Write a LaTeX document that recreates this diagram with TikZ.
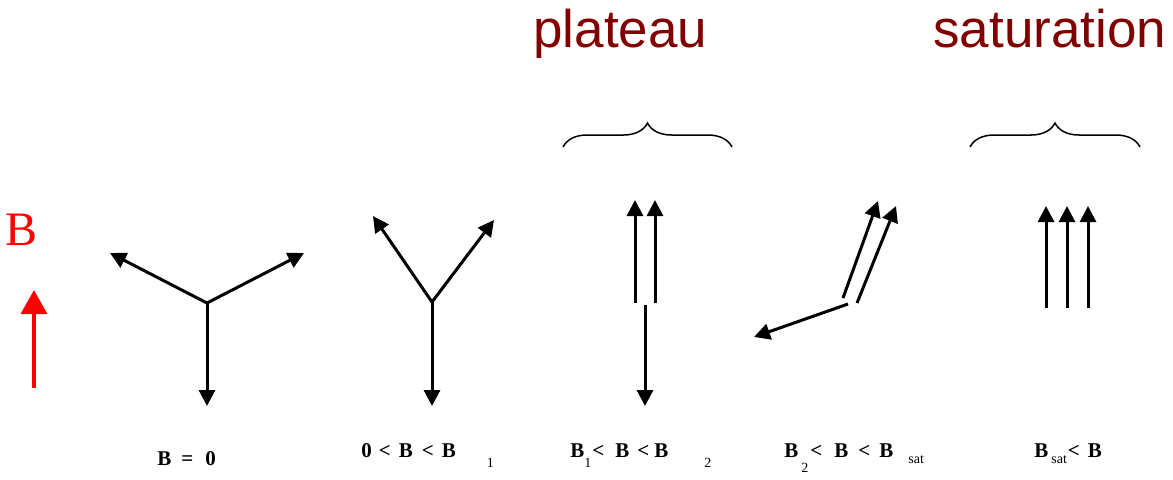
\documentclass[tikz,border=0pt]{standalone}
\usepackage{fontspec}
\setmainfont{Liberation Serif}
\newfontfamily\titlefont{Liberation Sans}
\usetikzlibrary{arrows.meta,decorations.pathreplacing}
\definecolor{darkred}{RGB}{128,0,0}
\newdimen\mypx \mypx=0.5pt
\newcommand\gp[1]{\hspace*{#1\mypx}}
\newcommand\lsub[2]{\raisebox{-#1\mypx}{\fontsize{7}{7}\selectfont\mdseries #2}}
\tikzset{
  spin/.style={line width=1.5pt,-{Triangle[length=8pt,width=8pt]}},
  fieldarrow/.style={red,line width=1.6pt,-{Triangle[length=12pt,width=13pt]}},
  bracetop/.style={decorate,decoration={brace,amplitude=12pt},line width=0.75pt},
  title/.style={font=\titlefont\fontsize{26.5}{30}\selectfont,text=darkred,inner sep=0pt,anchor=base west},
  cond/.style={font=\bfseries\fontsize{10.5}{12}\selectfont,inner sep=0pt,anchor=base west},
}
\begin{document}
\begin{tikzpicture}[x=0.5pt,y=-0.5pt]
\useasboundingbox (0,0) rectangle (1173,479);
% titles
\node[title] (tplat) at (533,47) {plateau};
\node[title] (tsat) at (933,47) {saturation};
% field
\node[font=\fontsize{24}{28}\selectfont,text=red,inner sep=0pt,anchor=base] (Blab) at (22,245) {B};
\coordinate (f0) at (34,388);
\coordinate (f1) at (34,290);
\draw[fieldarrow] (f0) -- (f1);
% diagram 1
\coordinate (c1) at (207,303);
\coordinate (c1l) at (110,253);
\coordinate (c1r) at (304,253);
\coordinate (c1d) at (207,406);
\draw[spin] (c1) -- (c1l);
\draw[spin] (c1) -- (c1r);
\draw[spin] (c1) -- (c1d);
% diagram 2
\coordinate (c2) at (432,302);
\coordinate (c2l) at (373,216);
\coordinate (c2r) at (494,220);
\coordinate (c2d) at (432,406);
\draw[spin] (c2) -- (c2l);
\draw[spin] (c2) -- (c2r);
\draw[spin] (c2) -- (c2d);
% diagram 3
\draw[bracetop] (563,147) coordinate (b1s) -- (732,147) coordinate (b1e);
\coordinate (c3a) at (635,303);
\coordinate (c3at) at (635,200);
\coordinate (c3b) at (655,303);
\coordinate (c3bt) at (655,200);
\coordinate (c3c) at (645,305);
\coordinate (c3ct) at (645,406);
\draw[spin] (c3a) -- (c3at);
\draw[spin] (c3b) -- (c3bt);
\draw[spin] (c3c) -- (c3ct);
% diagram 4
\coordinate (c4a) at (843,298);
\coordinate (c4at) at (878,201);
\coordinate (c4b) at (857,303);
\coordinate (c4bt) at (896,206);
\coordinate (c4c) at (848,304);
\coordinate (c4ct) at (754,337);
\draw[spin] (c4a) -- (c4at);
\draw[spin] (c4b) -- (c4bt);
\draw[spin] (c4c) -- (c4ct);
% diagram 5
\draw[bracetop] (970,147) coordinate (b2s) -- (1140,147) coordinate (b2e);
\coordinate (c5a) at (1046,308);
\coordinate (c5at) at (1046,206);
\coordinate (c5b) at (1067,308);
\coordinate (c5bt) at (1067,206);
\coordinate (c5c) at (1088,308);
\coordinate (c5ct) at (1088,206);
\draw[spin] (c5a) -- (c5at);
\draw[spin] (c5b) -- (c5bt);
\draw[spin] (c5c) -- (c5ct);
% conditions
\node[cond] (l1) at (157,465) {B\gp{10}=\gp{12}0};
\node[cond] (l2) at (361,457) {0\gp{7}<\gp{8}B\gp{9}<\gp{8}B\gp{31}\lsub{10}{1}};
\node[cond] (l3) at (570,457) {B\gp{0}\lsub{10}{1}\gp{1}<\gp{11}B\gp{8}<\gp{5}B\gp{36}\lsub{10}{2}};
\node[cond] (l4) at (784,457) {B\gp{3}\lsub{15}{2}\gp{2}<\gp{12}B\gp{10}<\gp{9}B\gp{15}\lsub{6}{sat}};
\node[cond] (l5) at (1034,457) {B\gp{3}\lsub{6}{sat}\gp{1}<\gp{8}B};
\end{tikzpicture}
\end{document}
